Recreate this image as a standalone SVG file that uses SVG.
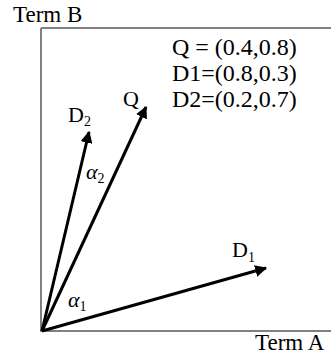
<svg xmlns="http://www.w3.org/2000/svg" width="331" height="356" viewBox="0 0 331 356">
<style>
text{font-family:"Liberation Serif","Times New Roman",serif;font-size:23px;fill:#000}
.leg{font-size:24px}
.lbl{font-size:22px}
.ax{stroke:#808080;stroke-width:2;fill:none}
.vec{stroke:#000;stroke-width:3;fill:none}
.it{font-style:italic}
.sub{font-size:14px;font-style:normal}
</style>
<defs>
<marker id="ah" viewBox="0 0 10 10" refX="9" refY="5" markerWidth="4" markerHeight="4" orient="auto" markerUnits="strokeWidth">
<path d="M0,0 L10,5 L0,10 z" fill="#000"/>
</marker>
</defs>
<g id="axes">
<polyline class="ax" points="41,28 41,331 331,331"/>
<line class="ax" x1="41" y1="28" x2="331" y2="28"/>
<text id="termB" x="13" y="22">Term B</text>
<text id="termA" x="255" y="350">Term A</text>
</g>
<g id="legend">
<text class="leg" x="172" y="55">Q = (0.4,0.8)</text>
<text class="leg" x="172" y="81">D1=(0.8,0.3)</text>
<text class="leg" x="172" y="107">D2=(0.2,0.7)</text>
</g>
<g id="connectors">
<line class="vec" x1="42" y1="331" x2="89" y2="132" marker-end="url(#ah)"/>
<line class="vec" x1="42" y1="331" x2="146" y2="107" marker-end="url(#ah)"/>
<line class="vec" x1="42" y1="331" x2="266" y2="268" marker-end="url(#ah)"/>
</g>
<g id="D2"><text class="lbl" x="68" y="122">D<tspan class="sub" dy="4">2</tspan></text></g>
<g id="Q"><text class="lbl" x="123" y="106">Q</text></g>
<g id="D1"><text class="lbl" x="232" y="257">D<tspan class="sub" dy="5">1</tspan></text></g>
<g id="alpha2"><text class="lbl it" x="86" y="179">α<tspan class="sub" dy="4">2</tspan></text></g>
<g id="alpha1"><text class="lbl it" x="68" y="307">α<tspan class="sub" dy="4">1</tspan></text></g>
</svg>
